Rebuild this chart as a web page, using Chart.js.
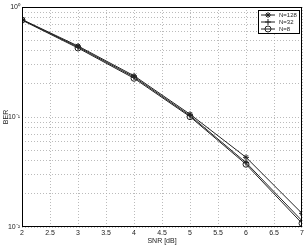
<!DOCTYPE html>
<html>
<head>
<meta charset="utf-8">
<script src="https://cdn.jsdelivr.net/npm/chart.js@4/dist/chart.umd.min.js"></script>
<style>
  html, body { margin: 0; padding: 0; background: #fff; }
  #wrap { width: 308px; height: 246px; }
</style>
</head>
<body>
<div id="wrap"><canvas id="c" width="308" height="246"></canvas></div>
<script>
const snr = [2, 3, 4, 5, 6, 7];
const berN128 = [0.770, 0.442, 0.237, 0.106, 0.0430, 0.0133];
const berN32 = [0.765, 0.433, 0.231, 0.103, 0.0385, 0.0114];
const berN8 = [0.760, 0.424, 0.225, 0.1007, 0.0372, 0.0108];
const seriesLabels = ["N=128", "N=32", "N=8"];
const xTicks = [2, 2.5, 3, 3.5, 4, 4.5, 5, 5.5, 6, 6.5, 7];
const yDecades = [0.01, 0.1, 1];
const yDecadeLabels = ["10\u207B\u00B2", "10\u207B\u00B9", "10\u2070"];

const FONT = "'Liberation Sans', Arial, sans-serif";
const ink = "#222";

function pts(ys) {
  return snr.map((x, i) => ({ x, y: ys[i] }));
}

const styles = ["star", "cross", "circle"];
const datasets = [berN128, berN32, berN8].map((ys, i) => ({
  label: seriesLabels[i],
  data: pts(ys),
  borderColor: ink,
  backgroundColor: "rgba(0,0,0,0)",
  borderWidth: 1,
  pointStyle: styles[i],
  pointRadius: 3,
  pointBorderColor: ink,
  pointBackgroundColor: "rgba(0,0,0,0)",
  pointBorderWidth: 1,
  tension: 0,
}));

// box around the plot and a MATLAB-like legend inside the top right corner
const framePlugin = {
  id: "frame",
  afterDraw(chart) {
    const { ctx, chartArea: a } = chart;
    ctx.save();
    ctx.strokeStyle = "#000";
    ctx.lineWidth = 1;
    ctx.strokeRect(a.left + 0.5, a.top + 0.5, a.right - a.left - 1, a.bottom - a.top - 1);

    const bx = a.right - 44, by = a.top + 3, bw = 41, bh = 23;
    ctx.fillStyle = "#fff";
    ctx.fillRect(bx, by, bw, bh);
    ctx.strokeRect(bx + 0.5, by + 0.5, bw, bh);
    ctx.font = "6px " + FONT;
    ctx.textBaseline = "middle";
    chart.data.datasets.forEach((ds, i) => {
      const y = by + 4.5 + i * 7;
      ctx.strokeStyle = ink;
      ctx.beginPath();
      ctx.moveTo(bx + 3, y + 0.5);
      ctx.lineTo(bx + 17, y + 0.5);
      ctx.stroke();
      ctx.fillStyle = "rgba(0,0,0,0)";
      Chart.helpers.drawPoint(ctx, { pointStyle: ds.pointStyle, radius: 3, rotation: 0, borderWidth: 1 }, bx + 10, y + 0.5);
      ctx.fillStyle = ink;
      ctx.fillText(ds.label, bx + 21, y + 0.5);
    });
    ctx.restore();
  },
};

new Chart(document.getElementById("c"), {
  type: "line",
  data: { datasets },
  plugins: [framePlugin],
  options: {
    responsive: false,
    animation: false,
    layout: { padding: { left: 0, right: 6, top: 7, bottom: 0 } },
    plugins: { legend: { display: false }, tooltip: { enabled: false } },
    scales: {
      x: {
        type: "linear",
        min: 2,
        max: 7,
        afterBuildTicks(s) { s.ticks = xTicks.map((v) => ({ value: v })); },
        afterFit(s) { s.height = 19; },
        ticks: { font: { family: FONT, size: 7 }, color: ink, padding: 2, maxRotation: 0, autoSkip: false,
          callback: (v) => String(v) },
        grid: { color: "#aaa", lineWidth: 0.8, tickLength: 0, drawTicks: false },
        border: { display: false, dash: [1, 2] },
        title: { display: true, text: "SNR [dB]", font: { family: FONT, size: 7 }, color: ink, padding: { top: 0, bottom: 1 } },
      },
      y: {
        type: "logarithmic",
        min: 0.01,
        max: 1,
        afterBuildTicks(s) {
          const t = [];
          yDecades.forEach((d, k) => {
            if (k === yDecades.length - 1) { t.push({ value: d }); return; }
            for (let m = 1; m < 10; m++) t.push({ value: +(d * m).toPrecision(3) });
          });
          s.ticks = t;
        },
        afterFit(s) { s.width = 22; },
        ticks: {
          font: { family: FONT, size: 7 }, color: ink, padding: 2, autoSkip: false,
          callback: (v) => {
            const k = yDecades.findIndex((d) => Math.abs(d - v) < d * 1e-6);
            return k >= 0 ? yDecadeLabels[k] : "";
          },
        },
        grid: { color: "#aaa", lineWidth: 0.8, tickLength: 0, drawTicks: false },
        border: { display: false, dash: [1, 2] },
        title: { display: true, text: "BER", font: { family: FONT, size: 7 }, color: ink, padding: { top: 2, bottom: 0 } },
      },
    },
  },
});
</script>
</body>
</html>
